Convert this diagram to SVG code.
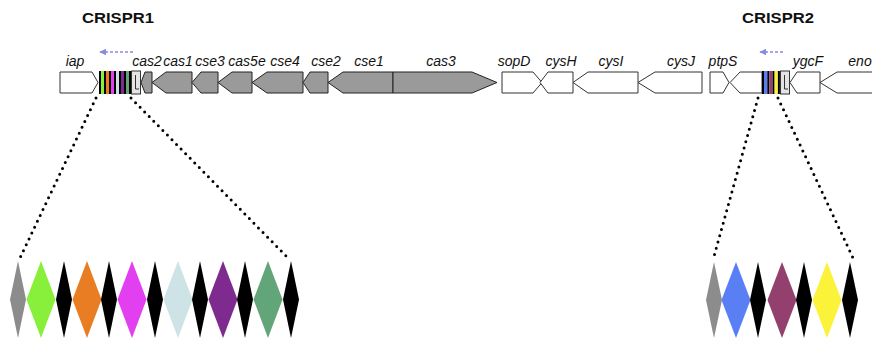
<svg xmlns="http://www.w3.org/2000/svg" width="872" height="343" viewBox="0 0 872 343">
<style>
.title{font-family:"Liberation Sans",Arial,sans-serif;font-weight:bold;font-size:15px;fill:#111}
.lbl{font-family:"Liberation Sans",Arial,sans-serif;font-style:italic;font-size:14px;fill:#111;text-anchor:middle}
.g{fill:#9a9a9a;stroke:#222;stroke-width:1}
.w{fill:#fff;stroke:#333;stroke-width:1}
.ldr{fill:#e4e4e4;stroke:#333;stroke-width:1}
.dots{stroke:#000;stroke-width:3;stroke-linecap:round;stroke-dasharray:0 6.5;fill:none}
.dir{stroke:#8a8ae0;stroke-width:1.3;stroke-dasharray:3 2;fill:none}
.k{fill:#000}
</style>
<defs>
<marker id="ah" viewBox="0 0 10 10" refX="9" refY="5" markerWidth="7" markerHeight="7" orient="auto-start-reverse" markerUnits="userSpaceOnUse">
<path d="M0 0 L10 5 L0 10 Z" fill="#8a8ae0"/>
</marker>
</defs>
<rect width="872" height="343" fill="#fff"/>

<text class="title" x="82" y="23" textLength="72" lengthAdjust="spacingAndGlyphs">CRISPR1</text>
<text class="title" x="742" y="23" textLength="72" lengthAdjust="spacingAndGlyphs">CRISPR2</text>

<g id="labels">
<text class="lbl" x="75" y="66">iap</text>
<text class="lbl" x="147" y="66">cas2</text>
<text class="lbl" x="178" y="66">cas1</text>
<text class="lbl" x="210" y="66">cse3</text>
<text class="lbl" x="247" y="66">cas5e</text>
<text class="lbl" x="285" y="66">cse4</text>
<text class="lbl" x="326" y="66">cse2</text>
<text class="lbl" x="369" y="66">cse1</text>
<text class="lbl" x="441" y="66">cas3</text>
<text class="lbl" x="514" y="66">sopD</text>
<text class="lbl" x="561" y="66">cysH</text>
<text class="lbl" x="611" y="66">cysI</text>
<text class="lbl" x="681" y="66">cysJ</text>
<text class="lbl" x="723" y="66">ptpS</text>
<text class="lbl" x="808" y="66">ygcF</text>
<text class="lbl" x="860" y="66">eno</text>
</g>

<g id="genes">
<path id="iap" class="w" d="M60 72 H92 L98 82.5 L92 93 H60 Z"/>
<path id="cas2" class="g" d="M141 82.5 L145 72 H152 V93 H145 Z"/>
<path id="cas1" class="g" d="M152 82.5 L166 72 H192 V93 H166 Z"/>
<path id="cse3" class="g" d="M192 82.5 L201 72 H218 V93 H201 Z"/>
<path id="cas5e" class="g" d="M218 82.5 L232 72 H252 V93 H232 Z"/>
<path id="cse4" class="g" d="M252 82.5 L267 72 H303 V93 H267 Z"/>
<path id="cse2" class="g" d="M303 82.5 L310 72 H328 V93 H310 Z"/>
<path id="cse1" class="g" d="M328 82.5 L343 72 H393 V93 H343 Z"/>
<path id="cas3" class="g" d="M393 72 H472 L497 82.5 L472 93 H393 Z"/>
<path id="sopD" class="w" d="M502 72 H533 L542 82.5 L533 93 H502 Z"/>
<path id="cysH" class="w" d="M540 82.5 L548 72 H573 V93 H548 Z"/>
<path id="cysI" class="w" d="M573 82.5 L588 72 H638 V93 H588 Z"/>
<path id="cysJ" class="w" d="M638 82.5 L655 72 H702 V93 H655 Z"/>
<path id="ptpS" class="w" d="M710 72 H723 L729 82.5 L723 93 H710 Z"/>
<path id="gene2" class="w" d="M730 82.5 L740 72 H762 V93 H740 Z"/>
<path id="ygcF" class="w" d="M790 82.5 L797 72 H820 V93 H797 Z"/>
<path id="eno" class="w" d="M820 82.5 L837 72 H874 V93 H837 Z"/>
</g>

<g id="crispr1-array">
<rect x="99" y="71" width="2" height="23" class="k"/>
<rect x="101" y="71" width="3" height="23" fill="#88f03a"/>
<rect x="104" y="71" width="2" height="23" class="k"/>
<rect x="106" y="71" width="3" height="23" fill="#e87d23"/>
<rect x="109" y="71" width="2" height="23" class="k"/>
<rect x="111" y="71" width="3" height="23" fill="#e23ff0"/>
<rect x="114" y="71" width="2" height="23" class="k"/>
<rect x="116" y="71" width="3" height="23" fill="#cde3e6"/>
<rect x="119" y="71" width="2" height="23" class="k"/>
<rect x="121" y="71" width="3" height="23" fill="#7e2a8e"/>
<rect x="124" y="71" width="2" height="23" class="k"/>
<rect x="126" y="71" width="3" height="23" fill="#61a578"/>
<rect x="129" y="71" width="2" height="23" class="k"/>
<rect x="131.5" y="71" width="9" height="23" class="ldr"/>
<path d="M135.5 75 V89 H139" stroke="#333" stroke-width="1" fill="none"/>
</g>

<g id="crispr2-array">
<rect x="762" y="71" width="2" height="23" class="k"/>
<rect x="764" y="71" width="3.3" height="23" fill="#5a7ff5"/>
<rect x="767.3" y="71" width="2" height="23" class="k"/>
<rect x="769.3" y="71" width="3.3" height="23" fill="#93406f"/>
<rect x="772.6" y="71" width="2" height="23" class="k"/>
<rect x="774.6" y="71" width="3.3" height="23" fill="#fbf33a"/>
<rect x="777.9" y="71" width="2" height="23" class="k"/>
<rect x="780.5" y="71" width="9" height="23" class="ldr"/>
<path d="M784.5 75 V89 H788" stroke="#333" stroke-width="1" fill="none"/>
</g>

<g id="connectors">
<line class="dir" x1="133" y1="52" x2="100" y2="52" marker-end="url(#ah)"/>
<line class="dir" x1="783" y1="52" x2="760" y2="52" marker-end="url(#ah)"/>
<line class="dots" x1="96" y1="98" x2="19" y2="260"/>
<line class="dots" x1="131" y1="98" x2="289" y2="259"/>
<line class="dots" x1="758" y1="98" x2="713" y2="260"/>
<line class="dots" x1="778" y1="98" x2="854" y2="260"/>
</g>

<g id="spacers1">
<path d="M18 261 L26 299.5 L18 338 L10 299.5 Z" fill="#8c8c8c"/>
<path d="M41 261 L55.5 299.5 L41 338 L26.5 299.5 Z" fill="#88f03a"/>
<path d="M64 261 L72 299.5 L64 338 L56 299.5 Z" class="k"/>
<path d="M87 261 L101.5 299.5 L87 338 L72.5 299.5 Z" fill="#e87d23"/>
<path d="M109 261 L117 299.5 L109 338 L101 299.5 Z" class="k"/>
<path d="M132 261 L146.5 299.5 L132 338 L117.5 299.5 Z" fill="#e23ff0"/>
<path d="M155 261 L163 299.5 L155 338 L147 299.5 Z" class="k"/>
<path d="M178 261 L192.5 299.5 L178 338 L163.5 299.5 Z" fill="#cde3e6"/>
<path d="M200 261 L208 299.5 L200 338 L192 299.5 Z" class="k"/>
<path d="M223 261 L237.5 299.5 L223 338 L208.5 299.5 Z" fill="#7e2a8e"/>
<path d="M245 261 L253 299.5 L245 338 L237 299.5 Z" class="k"/>
<path d="M268 261 L282.5 299.5 L268 338 L253.5 299.5 Z" fill="#61a578"/>
<path d="M291 261 L299 299.5 L291 338 L283 299.5 Z" class="k"/>
</g>

<g id="spacers2">
<path d="M714 262 L722 300 L714 338 L706 300 Z" fill="#8c8c8c"/>
<path d="M736 262 L750.5 300 L736 338 L721.5 300 Z" fill="#5a7ff5"/>
<path d="M758 262 L766 300 L758 338 L750 300 Z" class="k"/>
<path d="M782 262 L796.5 300 L782 338 L767.5 300 Z" fill="#93406f"/>
<path d="M804 262 L812 300 L804 338 L796 300 Z" class="k"/>
<path d="M827 262 L841.5 300 L827 338 L812.5 300 Z" fill="#fbf33a"/>
<path d="M850 262 L858 300 L850 338 L842 300 Z" class="k"/>
</g>
</svg>
